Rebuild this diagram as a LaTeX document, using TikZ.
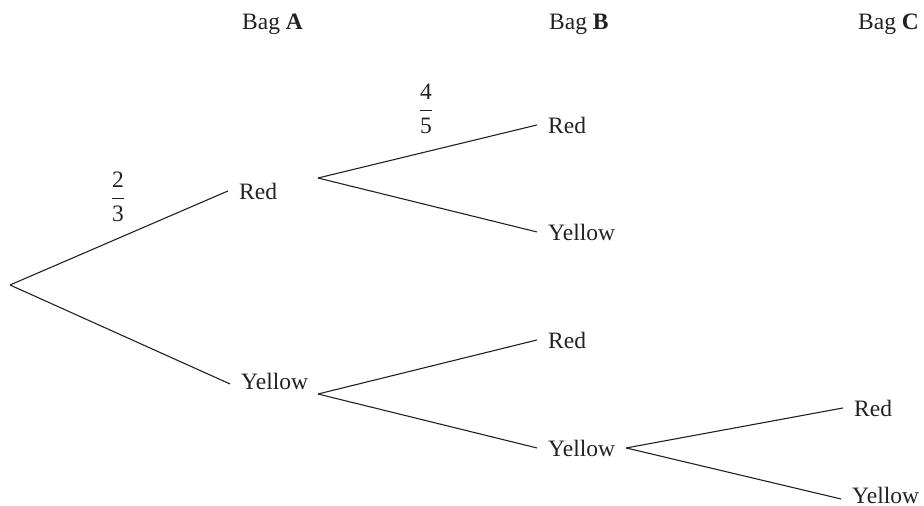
\documentclass[tikz,border=0pt]{standalone}
\usepackage{amsmath}
\usepackage{fontspec}
\setmainfont{Liberation Serif}
\definecolor{ink}{HTML}{222222}
\begin{document}
\begin{tikzpicture}[x=1pt,y=-1pt,
    outcome/.style={anchor=base west,inner xsep=11pt,inner ysep=0pt,
      font=\fontsize{23.5}{28}\selectfont,text=ink},
    baglabel/.style={anchor=base west,inner sep=0pt,
      font=\fontsize{23.5}{28}\selectfont,text=ink},
    prob/.style={inner sep=0pt,text=ink,font=\fontsize{23.5}{28}\selectfont},
    branch/.style={draw=ink,line width=1.1pt}]
  \useasboundingbox (0,0) rectangle (924,506);

  % column headings
  \node[baglabel] (bagA) at (242,29) {Bag \textbf{A}};
  \node[baglabel] (bagB) at (549,29) {Bag \textbf{B}};
  \node[baglabel] (bagC) at (858,29) {Bag \textbf{C}};

  % outcomes
  \coordinate (root) at (10,285);
  \node[outcome] (rA) at (228,199) {Red};
  \node[outcome] (yA) at (230,389) {Yellow};
  \node[outcome] (rB1) at (537,133) {Red};
  \node[outcome] (yB1) at (537,240) {Yellow};
  \node[outcome] (rB2) at (537,348) {Red};
  \node[outcome] (yB2) at (537,456) {Yellow};
  \node[outcome] (rC) at (843,416) {Red};
  \node[outcome] (yC) at (841,503) {Yellow};

  % branch points to the right of the Bag A outcomes
  \coordinate (rAout) at (318,178);
  \coordinate (yAout) at (318,394);

  % branches
  \draw[branch] (root) -- (rA.west);
  \draw[branch] (root) -- ([yshift=-3pt]yA.west);
  \draw[branch] (rAout) -- (rB1.west);
  \draw[branch] (rAout) -- (yB1.west);
  \draw[branch] (yAout) -- (rB2.west);
  \draw[branch] (yAout) -- (yB2.west);
  \draw[branch] (yB2.east) -- (rC.west);
  \draw[branch] (yB2.east) -- ([yshift=-4pt]yC.west);

  % probabilities
  \node[prob] (pRA) at (118,197) {$\dfrac{\text{2}}{\text{3}}$};
  \node[prob] (pRB) at (426,109) {$\dfrac{\text{4}}{\text{5}}$};
\end{tikzpicture}
\end{document}
